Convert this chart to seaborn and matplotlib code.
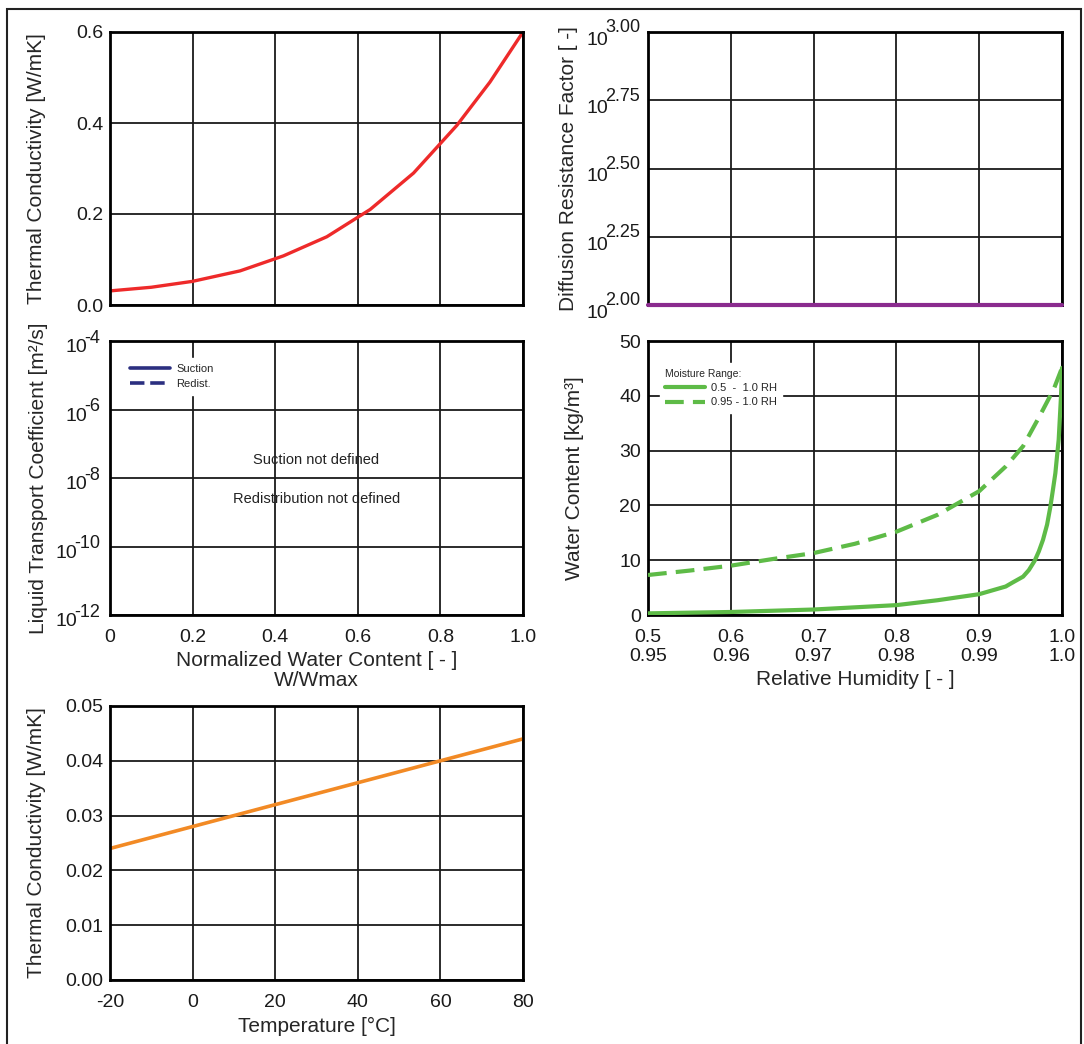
import matplotlib
matplotlib.use('Agg')
import numpy as np
import pandas as pd
import seaborn as sns
import matplotlib.pyplot as plt
from matplotlib.lines import Line2D
from matplotlib.patches import Rectangle
from matplotlib.transforms import blended_transform_factory

# thermal conductivity vs normalized water content
w_norm = [0.0, 0.1, 0.2, 0.315, 0.42, 0.525, 0.63, 0.735, 0.84, 0.92, 1.0]
lam_w = [0.031, 0.039, 0.052, 0.075, 0.108, 0.150, 0.21, 0.29, 0.395, 0.49, 0.6]

# diffusion resistance factor
mu_x = [0.0, 1.0]
mu_y = [100, 100]
mu_ticks = [100, 10**2.25, 10**2.5, 10**2.75, 1000]
mu_exps = ['2.00', '2.25', '2.50', '2.75', '3.00']

# liquid transport (not defined)
dw_ticks = [1e-12, 1e-10, 1e-8, 1e-6, 1e-4]
dw_exps = ['-12', '-10', '-8', '-6', '-4']
wn_ticks = [0, 0.2, 0.4, 0.6, 0.8, 1.0]
wn_labels = ['0', '0.2', '0.4', '0.6', '0.8', '1.0']

# moisture storage, 0.5 - 1.0 RH
rh_wide = [0.5, 0.6, 0.7, 0.8, 0.85, 0.9, 0.932, 0.94, 0.953, 0.96, 0.967, 0.972,
           0.977, 0.982, 0.986, 0.989, 0.992, 0.994, 0.996, 0.9988, 1.0]
wc_wide = [0.3, 0.55, 1.0, 1.8, 2.7, 3.8, 5.2, 5.9, 7.0, 8.2, 9.9, 11.6,
           13.7, 16.5, 19.8, 22.8, 25.9, 29.0, 32.0, 39.9, 45.1]
# moisture storage, 0.95 - 1.0 RH
rh_narrow = [0.95, 0.955, 0.96, 0.965, 0.97, 0.975, 0.98, 0.985, 0.99, 0.9932,
             0.9953, 0.9973, 0.999, 1.0]
wc_narrow = [7.3, 8.1, 9.0, 10.2, 11.3, 13.0, 15.2, 18.3, 22.6, 27.1,
             30.8, 36.3, 41.2, 45.1]
rh_top = [0.5, 0.6, 0.7, 0.8, 0.9, 1.0]
rh_top_labels = ['0.5', '0.6', '0.7', '0.8', '0.9', '1.0']
rh_bot_labels = ['0.95', '0.96', '0.97', '0.98', '0.99', '1.0']

# thermal conductivity vs temperature
temp = [-20, 80]
lam_t = [0.024, 0.044]

sns.set_theme(style='white')
plt.rcParams['font.family'] = ['Liberation Sans', 'DejaVu Sans']
plt.rcParams['axes.unicode_minus'] = False

TICK = 14
LAB = 15
TXT = '#1a1a1a'

fig = plt.figure(figsize=(10.84, 10.44), dpi=100)
fig.patches.append(Rectangle((0.0065, -0.01), 0.991, 1.001, transform=fig.transFigure,
                             fill=False, edgecolor='#222222', linewidth=1.5))

W, H = 1084, 1044
def axes_at(x0, y0, x1, y1):
    return fig.add_axes([x0 / W, 1 - y1 / H, (x1 - x0) / W, (y1 - y0) / H])

def style(ax):
    ax.grid(True, color='#1a1a1a', linewidth=1.3)
    ax.set_axisbelow(True)
    for s in ax.spines.values():
        s.set_color('black')
        s.set_linewidth(2)
        s.set_visible(True)
    ax.tick_params(length=0, labelsize=TICK, pad=5, labelcolor=TXT)
    ax.tick_params(axis='x', pad=10)
    ax.set_facecolor('white')

def power_labels(ax, ticks, exps, xpos, up, drop):
    # "10" with a large raised exponent, like the original software draws it
    ax.set_yticks(ticks)
    ax.set_yticklabels([])
    tr = blended_transform_factory(ax.transAxes, ax.transData)
    for t, e in zip(ticks, exps):
        et = ax.annotate(e, xy=(xpos, t), xycoords=tr, xytext=(0, up),
                         textcoords='offset points', ha='right', va='center',
                         fontsize=13, color=TXT)
        ax.annotate('10', xy=(0, 0.5), xycoords=et, xytext=(2, -drop),
                    textcoords='offset points', ha='right', va='center',
                    fontsize=TICK, color=TXT)

# top left
ax1 = axes_at(110, 32, 523, 305)
sns.lineplot(x=w_norm, y=lam_w, ax=ax1, color='#ee2a2a', linewidth=2.4)
ax1.set_xlim(0, 1)
ax1.set_ylim(0, 0.6)
ax1.set_xticks(wn_ticks)
ax1.set_xticklabels([])
ax1.set_yticks([0, 0.2, 0.4, 0.6])
ax1.set_yticklabels(['0.0', '0.2', '0.4', '0.6'])
style(ax1)
ax1.set_ylabel('Thermal Conductivity [W/mK]', fontsize=LAB)
ax1.yaxis.set_label_coords(-0.155, 0.5)

# top right
ax2 = axes_at(648, 32, 1062, 305)
sns.lineplot(x=mu_x, y=mu_y, ax=ax2, color='#8a2b8e', linewidth=3, clip_on=False, zorder=5)
ax2.set_yscale('log')
ax2.set_xlim(0, 1)
ax2.set_ylim(100, 1000)
ax2.minorticks_off()
ax2.set_xticks(wn_ticks)
ax2.set_xticklabels([])
style(ax2)
power_labels(ax2, mu_ticks, mu_exps, -0.019, 3, 9)
ax2.set_ylabel('Diffusion Resistance Factor [ -]', fontsize=LAB)
ax2.yaxis.set_label_coords(-0.169, 0.5)

# middle left
ax3 = axes_at(110, 341, 523, 615)
ax3.set_yscale('log')
ax3.set_xlim(0, 1)
ax3.set_ylim(1e-12, 1e-4)
ax3.minorticks_off()
ax3.set_xticks(wn_ticks)
ax3.set_xticklabels(wn_labels)
style(ax3)
power_labels(ax3, dw_ticks, dw_exps, -0.024, 2, 7)
ax3.set_ylabel('Liquid Transport Coefficient [m²/s]', fontsize=LAB)
ax3.yaxis.set_label_coords(-0.15, 0.5)
ax3.set_xlabel('Normalized Water Content [ - ]\nW/Wmax', fontsize=LAB, linespacing=1.05, labelpad=4)
ax3.text(0.5, 10**-7.48, 'Suction not defined', ha='center', va='center', fontsize=10.5, color='#222222')
ax3.text(0.5, 10**-8.61, 'Redistribution not defined', ha='center', va='center', fontsize=10.5, color='#222222')
navy = '#2b2f80'
h = [Line2D([], [], color=navy, lw=2.6), Line2D([], [], color=navy, lw=2.6, ls=(0, (4, 1.6)))]
ax3.legend(h, ['Suction', 'Redist.'], loc='upper left', bbox_to_anchor=(0.02, 0.96),
           fontsize=8, handlelength=3.6, handletextpad=0.5, frameon=True, fancybox=False,
           edgecolor='white', framealpha=1, borderpad=0.6, labelspacing=0.4)

# middle right
ax4 = axes_at(648, 341, 1062, 615)
green = '#5ebb47'
sns.lineplot(x=rh_wide, y=wc_wide, ax=ax4, color=green, linewidth=3, zorder=4)
ax4.set_xlim(0.5, 1.0)
ax4.set_ylim(0, 50)
ax4.set_xticks(rh_top)
ax4.set_xticklabels([f'{a}\n{b}' for a, b in zip(rh_top_labels, rh_bot_labels)], linespacing=1.15)
ax4.set_yticks([0, 10, 20, 30, 40, 50])
style(ax4)
ax4.set_ylabel('Water Content [kg/m³]', fontsize=LAB)
ax4.yaxis.set_label_coords(-0.155, 0.5)
ax4.set_xlabel('Relative Humidity [ - ]', fontsize=LAB, labelpad=4)
ax4b = ax4.twiny()
sns.lineplot(x=rh_narrow, y=wc_narrow, ax=ax4b, color=green, linewidth=3,
             linestyle=(0, (4.5, 2.2)), zorder=4)
ax4b.set_xlim(0.95, 1.0)
ax4b.set_ylim(0, 50)
ax4b.set_xticks([])
ax4b.grid(False)
for s in ax4b.spines.values():
    s.set_visible(False)
h4 = [Line2D([], [], color=green, lw=3), Line2D([], [], color=green, lw=3, ls=(0, (4.5, 2.2)))]
leg4 = ax4b.legend(h4, ['0.5  -  1.0 RH', '0.95 - 1.0 RH'], title='Moisture Range:',
                   loc='upper left', bbox_to_anchor=(0.015, 0.94), fontsize=8,
                   title_fontsize=7.5, handlelength=3.6, handletextpad=0.5, frameon=True,
                   fancybox=False, edgecolor='white', framealpha=1, borderpad=0.5,
                   labelspacing=0.4)
leg4._legend_box.align = 'left'

# bottom left
ax5 = axes_at(110, 706, 523, 980)
sns.lineplot(x=temp, y=lam_t, ax=ax5, color='#f28a25', linewidth=2.6)
ax5.set_xlim(-20, 80)
ax5.set_ylim(0, 0.05)
ax5.set_xticks([-20, 0, 20, 40, 60, 80])
ax5.set_yticks([0, 0.01, 0.02, 0.03, 0.04, 0.05])
ax5.set_yticklabels(['0.00', '0.01', '0.02', '0.03', '0.04', '0.05'])
style(ax5)
ax5.set_ylabel('Thermal Conductivity [W/mK]', fontsize=LAB)
ax5.yaxis.set_label_coords(-0.155, 0.5)
ax5.set_xlabel('Temperature [°C]', fontsize=LAB, labelpad=4)

fig.savefig('out.png', dpi=100, facecolor='white')
